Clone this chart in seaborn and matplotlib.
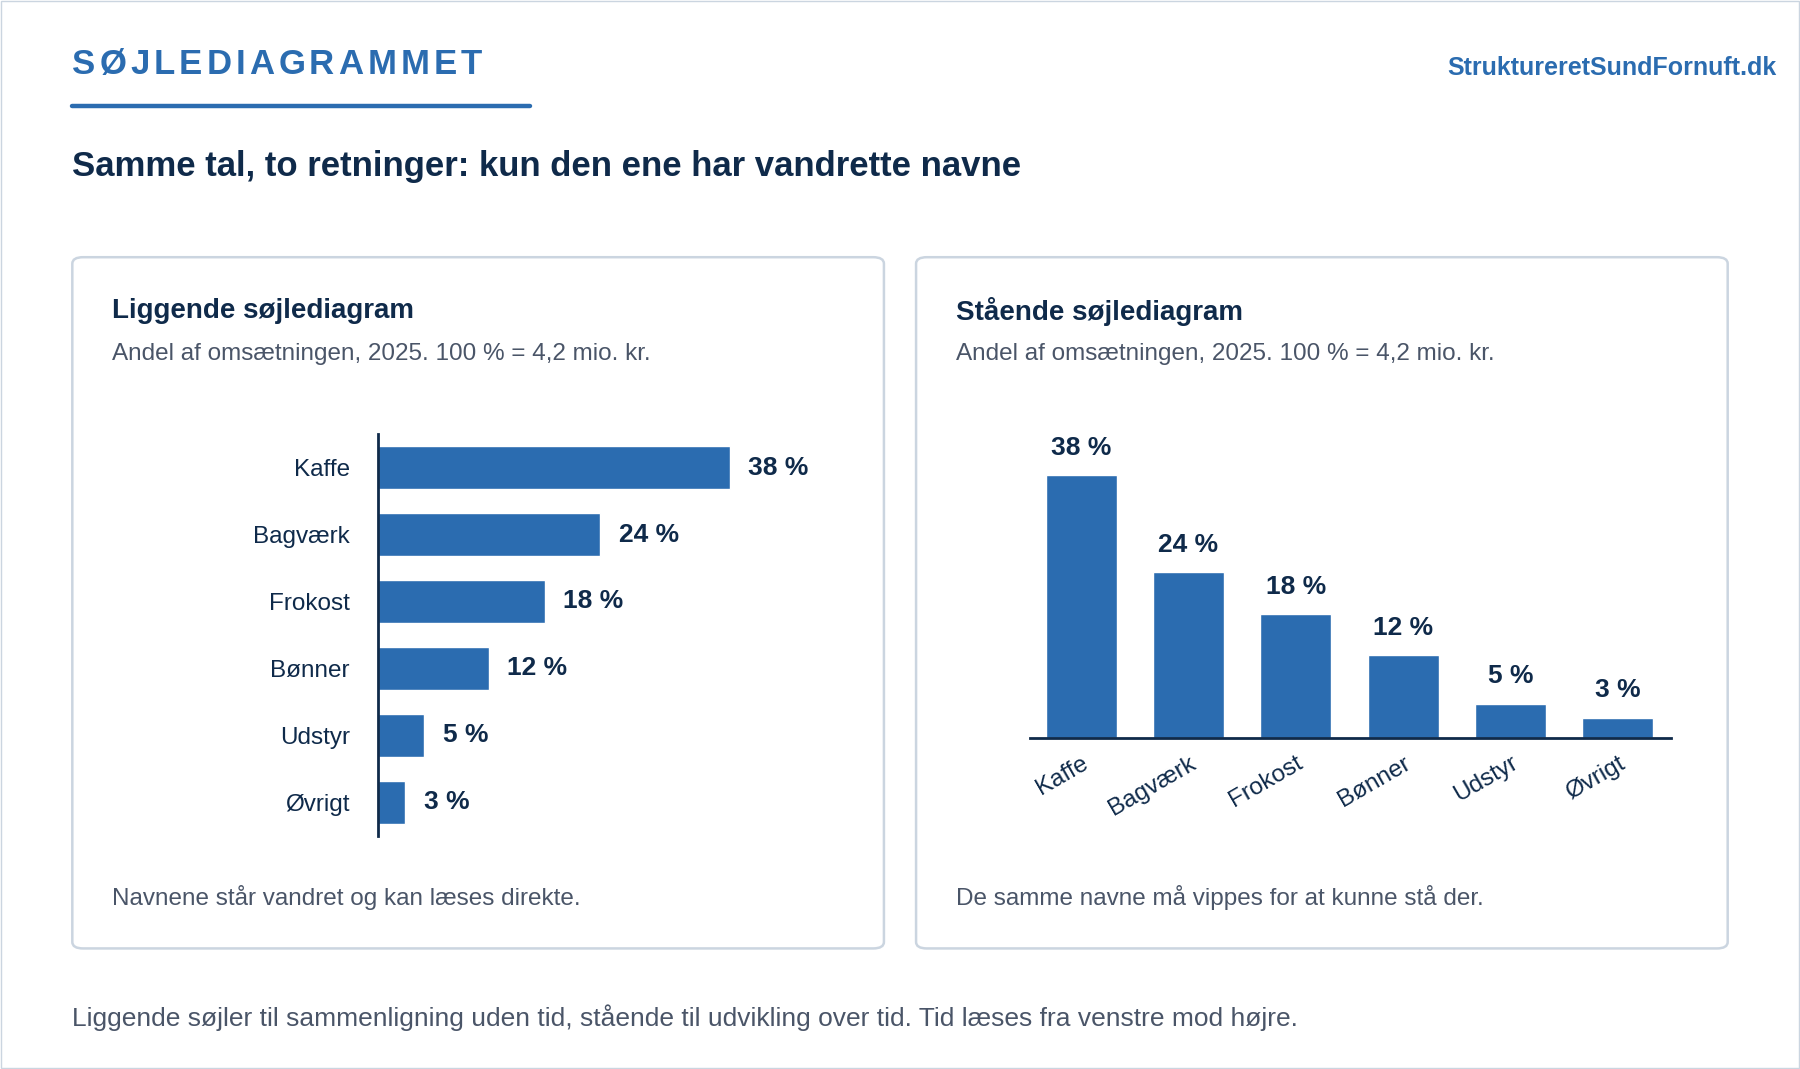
import matplotlib
matplotlib.use("Agg")
import matplotlib.pyplot as plt
import seaborn as sns
import pandas as pd
from matplotlib.patches import FancyBboxPatch

categories = ["Kaffe", "Bagværk", "Frokost", "Bønner", "Udstyr", "Øvrigt"]
values = [38, 24, 18, 12, 5, 3]
value_labels = ["38 %", "24 %", "18 %", "12 %", "5 %", "3 %"]

sns.set_theme(style="white")
plt.rcParams['font.family'] = ['Liberation Sans', 'DejaVu Sans']

BLUE = "#2b6cb0"
NAVY = "#0f2a4a"
GRAY = "#4a5568"
W, H = 1568, 931

fig = plt.figure(figsize=(18, 10.69), dpi=100)
fig.patch.set_facecolor("white")

def fx(x): return x / W
def fy(y): return 1 - y / H

# outer border
fig.patches.append(FancyBboxPatch((0.0005, 0.0005), 0.999, 0.999, boxstyle="square,pad=0",
                                  transform=fig.transFigure, fill=False, ec="#cbd5e0", lw=1))

# header with letter spacing
renderer = fig.canvas.get_renderer()
x = fx(63)
for ch in "SØJLEDIAGRAMMET":
    t = fig.text(x, fy(56), ch, fontsize=25, fontweight="bold", color=BLUE, va="center", ha="left")
    bb = t.get_window_extent(renderer=renderer)
    x += bb.width / fig.bbox.width + 0.0022
fig.add_artist(plt.Line2D([fx(63), fx(462)], [fy(92), fy(92)], color=BLUE, lw=3.2, transform=fig.transFigure))
fig.text(fx(1548), fy(59), "StruktureretSundFornuft.dk", fontsize=18, fontweight="bold", color=BLUE, ha="right", va="center")
fig.text(fx(63), fy(145), "Samme tal, to retninger: kun den ene har vandrette navne", fontsize=25, fontweight="bold", color=NAVY, va="center")

# panels
for x0, x1, title, foot in [(63, 770, "Liggende søjlediagram", "Navnene står vandret og kan læses direkte."),
                            (798, 1505, "Stående søjlediagram", "De samme navne må vippes for at kunne stå der.")]:
    fig.patches.append(FancyBboxPatch((fx(x0), fy(826)), fx(x1 - x0), (826 - 224) / H,
                                      boxstyle="round,pad=0,rounding_size=0.006", transform=fig.transFigure,
                                      fill=False, ec="#cbd5e0", lw=1.8))
    fig.text(fx(x0 + 35), fy(271), title, fontsize=20, fontweight="bold", color=NAVY, va="center")
    fig.text(fx(x0 + 35), fy(308), "Andel af omsætningen, 2025. 100 % = 4,2 mio. kr.", fontsize=17.5, color=GRAY, va="center")
    fig.text(fx(x0 + 35), fy(782), foot, fontsize=17.5, color=GRAY, va="center")

fig.text(fx(63), fy(886), "Liggende søjler til sammenligning uden tid, stående til udvikling over tid. Tid læses fra venstre mod højre.",
         fontsize=19, color=GRAY, va="center")

df = pd.DataFrame({"cat": categories, "val": values})

# horizontal
ax1 = fig.add_axes([fx(329), fy(728), fx(740 - 329), (728 - 378) / H])
sns.barplot(data=df, x="val", y="cat", orient="h", color=BLUE, width=0.65, saturation=1, ax=ax1)
ax1.set_xlim(0, 50.9)
ax1.set_ylim(5.5, -0.5)
ax1.set_xlabel(""); ax1.set_ylabel("")
ax1.set_xticks([])
for s in ["top", "right", "bottom"]:
    ax1.spines[s].set_visible(False)
ax1.spines["left"].set_color(NAVY); ax1.spines["left"].set_linewidth(2)
ax1.tick_params(axis="y", length=0, pad=20, labelsize=17.5, labelcolor=NAVY)
ax1.set_facecolor("none")
for i, (v, l) in enumerate(zip(values, value_labels)):
    ax1.text(v + 2, i, l, va="center", ha="left", fontsize=19, fontweight="bold", color=NAVY)

# vertical
ax2 = fig.add_axes([fx(897), fy(643), fx(1456 - 897), (643 - 370) / H])
sns.barplot(data=df, x="cat", y="val", color=BLUE, width=0.66, saturation=1, ax=ax2)
ax2.set_xlim(-0.48, 5.5)
ax2.set_ylim(0, 45.3)
ax2.set_xlabel(""); ax2.set_ylabel("")
ax2.set_yticks([])
for s in ["top", "right", "left"]:
    ax2.spines[s].set_visible(False)
ax2.spines["bottom"].set_color(NAVY); ax2.spines["bottom"].set_linewidth(2)
ax2.tick_params(axis="x", length=0, pad=10, labelsize=17.5, labelcolor=NAVY)
for lab in ax2.get_xticklabels():
    lab.set_rotation(30); lab.set_ha("right"); lab.set_rotation_mode("anchor")
ax2.set_facecolor("none")
for i, (v, l) in enumerate(zip(values, value_labels)):
    ax2.text(i, v + 2.2, l, va="bottom", ha="center", fontsize=19, fontweight="bold", color=NAVY)

fig.savefig("out.png", dpi=100, facecolor="white")
